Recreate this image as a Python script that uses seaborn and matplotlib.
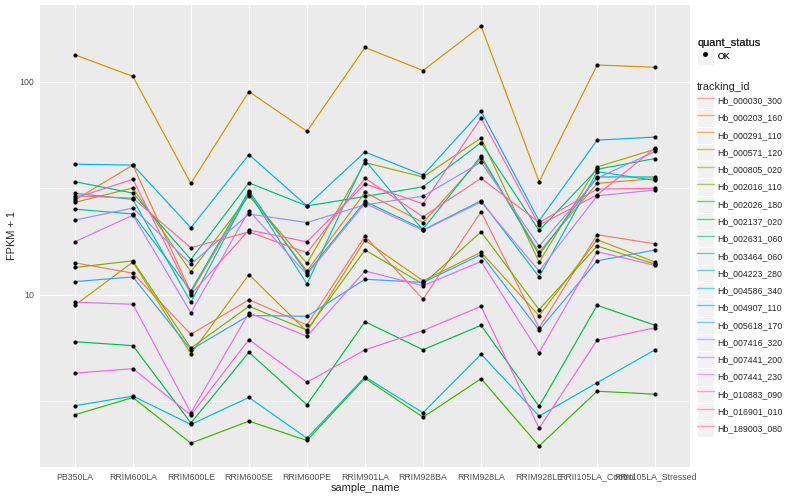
import numpy as np
import pandas as pd
import matplotlib
matplotlib.use('Agg')
import matplotlib.pyplot as plt
import seaborn as sns
from matplotlib.lines import Line2D
from matplotlib.patches import Rectangle
from matplotlib.legend_handler import HandlerLine2D
from matplotlib.ticker import FixedLocator, NullFormatter

samples = ['PB350LA', 'RRIM600LA', 'RRIM600LE', 'RRIM600SE', 'RRIM600PE', 'RRIM901LA',
           'RRIM928BA', 'RRIM928LA', 'RRIM928LE', 'RRII105LA_Control', 'RRII105LA_Stressed']

tracking_ids = ['Hb_000030_300', 'Hb_000203_160', 'Hb_000291_110', 'Hb_000571_120',
                'Hb_000805_020', 'Hb_002016_110', 'Hb_002026_180', 'Hb_002137_020',
                'Hb_002631_060', 'Hb_003464_060', 'Hb_004223_280', 'Hb_004586_340',
                'Hb_004907_110', 'Hb_005618_170', 'Hb_007416_320', 'Hb_007441_200',
                'Hb_007441_230', 'Hb_010883_090', 'Hb_016901_010', 'Hb_189003_080']

# FPKM + 1, one list per gene (order = samples)
hb_000030_300 = [14.1, 12.6, 6.5, 9.45, 7.2, 18.8, 9.5, 24.5, 6.97, 19.1, 17.3]
hb_000203_160 = [27.8, 40.6, 10.2, 29.7, 12.9, 30.2, 21.8, 43.7, 15.8, 33.3, 35.1]
hb_000291_110 = [134, 106, 33.3, 90, 58.5, 145, 113, 183, 33.9, 120, 117]
hb_000571_120 = [8.9, 14.2, 5.26, 12.4, 6.7, 18.0, 11.6, 15.8, 7.95, 18.1, 14.2]
hb_000805_020 = [27.1, 31.7, 12.8, 29.1, 14.0, 41.7, 35.7, 54.4, 14.2, 39.8, 48.2]
hb_002016_110 = [13.4, 14.4, 5.6, 8.8, 6.8, 16.2, 11.2, 19.7, 8.5, 16.9, 13.9]
hb_002026_180 = [2.72, 3.28, 2.0, 2.54, 2.06, 4.04, 2.65, 4.02, 1.94, 3.51, 3.4]
hb_002137_020 = [6.0, 5.75, 2.49, 5.35, 3.03, 7.45, 5.5, 7.16, 2.98, 8.9, 7.16]
hb_002631_060 = [33.9, 30.0, 14.6, 33.5, 26.1, 28.9, 32.1, 51.8, 20.0, 38.8, 43.6]
hb_003464_060 = [25.2, 23.9, 10.4, 30.7, 12.6, 27.4, 20.3, 44.8, 15.4, 35.7, 35.7]
hb_004223_280 = [29.9, 28.0, 9.2, 30.2, 11.2, 42.8, 20.1, 27.6, 12.1, 37.8, 34.4]
hb_004586_340 = [3.0, 3.33, 2.45, 3.28, 2.11, 4.1, 2.78, 5.24, 2.68, 3.85, 5.5]
hb_004907_110 = [41, 40.6, 20.6, 45.5, 26.1, 46.8, 36.4, 72.6, 22.2, 53.2, 55.0]
hb_005618_170 = [11.5, 12.1, 5.5, 7.97, 7.9, 11.8, 11.4, 15.4, 6.8, 14.4, 16.2]
hb_007416_320 = [22.4, 25.5, 13.9, 23.9, 21.8, 26.4, 29.0, 41.9, 16.9, 35.2, 47.1]
hb_007441_200 = [17.7, 23.6, 8.2, 24.8, 12.4, 26.8, 20.0, 27.2, 12.9, 29.1, 31.0]
hb_007441_230 = [9.2, 9.0, 2.78, 8.2, 6.36, 12.9, 11.0, 14.3, 5.33, 15.9, 13.7]
hb_010883_090 = [4.27, 4.48, 2.71, 6.14, 3.87, 5.49, 6.77, 8.8, 2.35, 6.1, 6.98]
hb_016901_010 = [28.4, 34.8, 10.0, 20.1, 17.7, 33.1, 26.7, 67.5, 21.2, 29.4, 48.9]
hb_189003_080 = [29.1, 28.4, 16.6, 19.7, 15.7, 35.2, 23.2, 35.2, 21.8, 31.3, 31.6]

series = [hb_000030_300, hb_000203_160, hb_000291_110, hb_000571_120, hb_000805_020,
          hb_002016_110, hb_002026_180, hb_002137_020, hb_002631_060, hb_003464_060,
          hb_004223_280, hb_004586_340, hb_004907_110, hb_005618_170, hb_007416_320,
          hb_007441_200, hb_007441_230, hb_010883_090, hb_016901_010, hb_189003_080]

rows = []
for tid, vals in zip(tracking_ids, series):
    for s, v in zip(samples, vals):
        rows.append({'tracking_id': tid, 'sample_name': s, 'fpkm': v, 'quant_status': 'OK'})
df = pd.DataFrame(rows)


def hcl_hex(h, c=100.0, l=65.0):
    # ggplot2 hue_pal colours (CIE LCh(uv) -> sRGB)
    hr = np.deg2rad(h)
    u, v = c * np.cos(hr), c * np.sin(hr)
    xn, yn, zn = 95.047, 100.0, 108.883
    d = xn + 15 * yn + 3 * zn
    un, vn = 4 * xn / d, 9 * yn / d
    y = yn * ((l + 16) / 116) ** 3
    up, vp = u / (13 * l) + un, v / (13 * l) + vn
    x = 9 * y * up / (4 * vp)
    z = y * (12 - 3 * up - 20 * vp) / (4 * vp)
    x, y, z = x / 100, y / 100, z / 100
    rgb = [3.2404542 * x - 1.5371385 * y - 0.4985314 * z,
           -0.9692660 * x + 1.8760108 * y + 0.0415560 * z,
           0.0556434 * x - 0.2040259 * y + 1.0572252 * z]
    out = []
    for ch in rgb:
        ch = 12.92 * ch if ch <= 0.0031308 else 1.055 * ch ** (1 / 2.4) - 0.055
        out.append(min(max(ch, 0), 1))
    return matplotlib.colors.to_hex(out)


hues = np.linspace(15, 375, len(tracking_ids) + 1)[:-1]
palette = dict(zip(tracking_ids, [hcl_hex(h) for h in hues]))

sns.set_theme(style='darkgrid')
plt.rcParams['font.family'] = ['Liberation Sans', 'DejaVu Sans']
plt.rcParams['axes.facecolor'] = '#EBEBEB'

fig = plt.figure(figsize=(8, 5), dpi=100)
ax = fig.add_axes([0.05, 0.066, 0.8125, 0.924])

sns.lineplot(data=df, x='sample_name', y='fpkm', hue='tracking_id', hue_order=tracking_ids,
             palette=palette, sort=False, errorbar=None, linewidth=0.85, legend=False, ax=ax)
sns.scatterplot(data=df, x='sample_name', y='fpkm', color='black', s=9, linewidth=0,
                legend=False, ax=ax, zorder=3)

ax.set_yscale('log')
lo, hi = np.log10(df['fpkm'].min()), np.log10(df['fpkm'].max())
pad = 0.05 * (hi - lo)
ax.set_ylim(10 ** (lo - pad), 10 ** (hi + pad))
ax.set_xlim(-0.6, len(samples) - 0.4)
ax.set_yticks([10, 100])
ax.set_yticklabels(['10', '100'])
ax.yaxis.set_minor_locator(FixedLocator([10 ** 0.5, 10 ** 1.5]))
ax.yaxis.set_minor_formatter(NullFormatter())
ax.grid(which='major', color='white', linewidth=0.8)
ax.grid(which='minor', axis='y', color='white', linewidth=0.4)
ax.set_axisbelow(True)
for sp in ax.spines.values():
    sp.set_visible(False)
ax.tick_params(axis='both', which='major', length=2.5, width=0.6, color='#333333',
               labelsize=6.3, labelcolor='#4D4D4D', pad=1.5)
ax.tick_params(axis='y', which='minor', length=0)
ax.set_xlabel('sample_name', fontsize=7.9, labelpad=1)
ax.set_ylabel('FPKM + 1', fontsize=7.9, labelpad=2)


class KeyHandler(HandlerLine2D):
    def create_artists(self, legend, orig_handle, xdescent, ydescent, width, height, fontsize, trans):
        bg = Rectangle((-xdescent, -ydescent), width, height, facecolor='#F2F2F2',
                       edgecolor='white', linewidth=0.8, transform=trans)
        return [bg] + super().create_artists(legend, orig_handle, xdescent, ydescent,
                                             width, height, fontsize, trans)


common = dict(loc='upper left', frameon=False, fontsize=6.3, title_fontsize=7.9,
              handlelength=1.9, handleheight=2.66, labelspacing=0, handletextpad=0.45,
              borderpad=0, borderaxespad=0, alignment='left')

ok_handle = Line2D([], [], marker='o', color='black', linestyle='none', markersize=2.5)
leg1 = fig.legend([ok_handle], ['OK'], title='quant_status', numpoints=1,
                  bbox_to_anchor=(697 / 800, 1 - 38 / 500),
                  handler_map={Line2D: KeyHandler(numpoints=1)}, **common)

id_handles = [Line2D([], [], color=palette[t], linewidth=1.0, alpha=0.6) for t in tracking_ids]
leg2 = fig.legend(id_handles, tracking_ids, title='tracking_id',
                  bbox_to_anchor=(697 / 800, 1 - 82 / 500),
                  handler_map={Line2D: KeyHandler()}, **common)
fig.add_artist(leg1)
for lg in (leg1, leg2):
    lg.get_title().set_fontweight('normal')

fig.savefig('out.png', dpi=100)
